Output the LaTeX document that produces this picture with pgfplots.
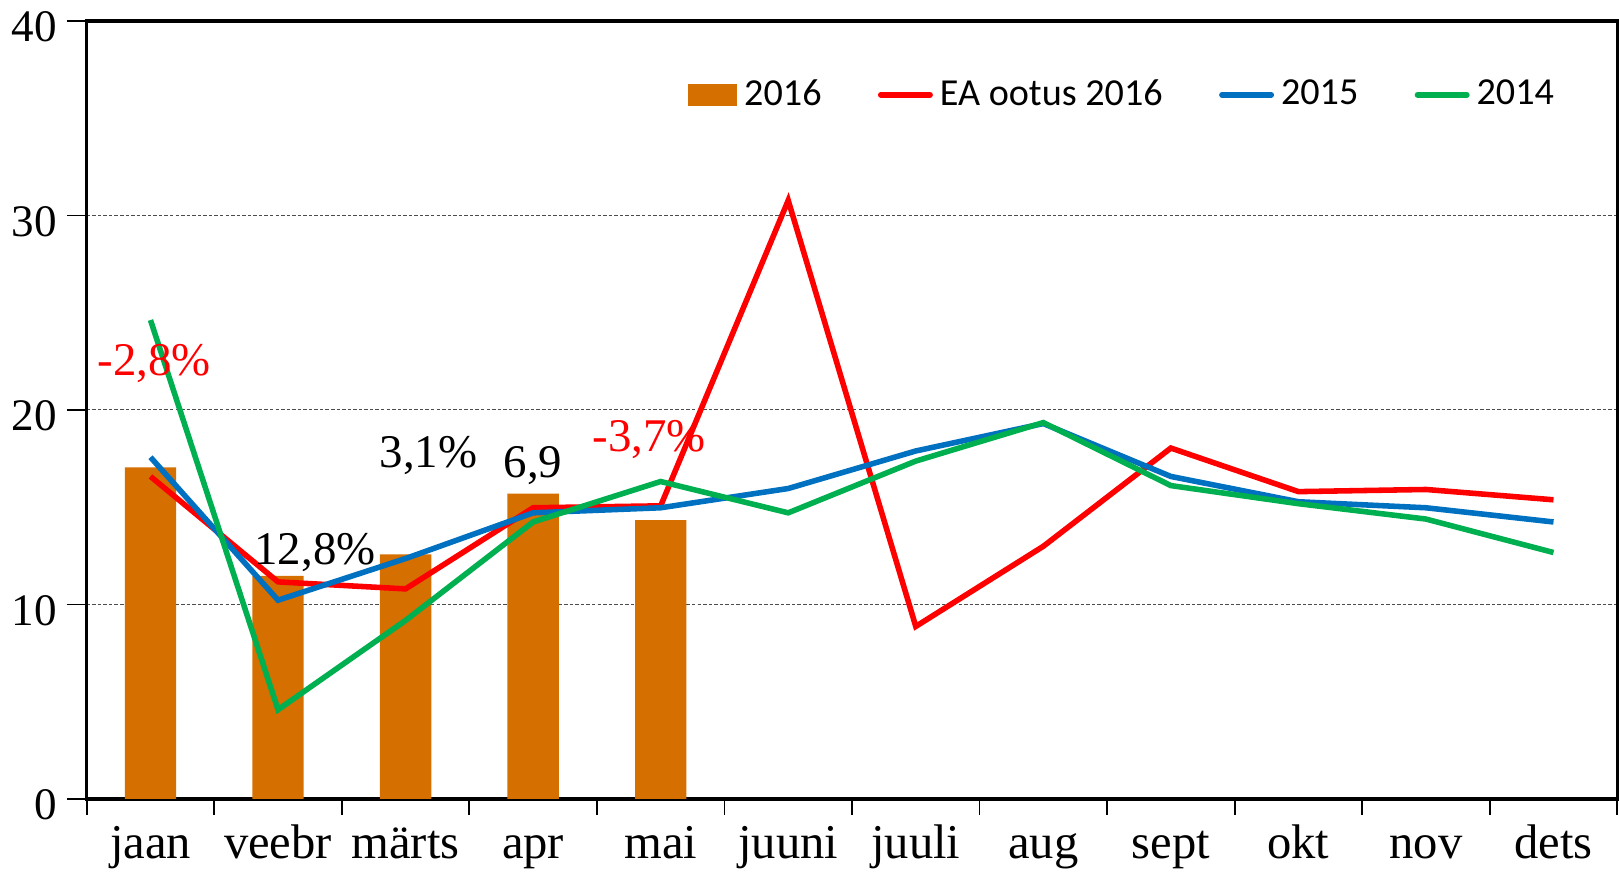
\documentclass[border=0pt]{standalone}
\usepackage{fontspec}
\setmainfont{Liberation Serif}
\newfontfamily\legfont{Carlito}
\usepackage{pgfplots}
\pgfplotsset{compat=1.18}
\definecolor{bar16}{HTML}{D46F00}
\definecolor{red16}{HTML}{FF0000}
\definecolor{blue15}{HTML}{0070C0}
\definecolor{green14}{HTML}{00B050}

\begin{document}
\begin{tikzpicture}
  \begin{axis}[
    scale only axis,
    width=15.5cm, height=7.88cm,
    xmin=-0.5, xmax=11.5, ymin=0, ymax=40,
    xtick={0,...,11},
    xticklabels={jaan,veebr,märts,apr,mai,juuni,juuli,aug,sept,okt,nov,dets},
    minor xtick={-0.5,0.5,...,11.5},
    xtick pos=bottom, ytick pos=left,
    major x tick style={draw=none},
    minor x tick style={black, line width=0.5pt},
    minor tick length=0.16cm,
    ytick={0,10,20,30,40},
    ymajorgrids,
    major grid style={black!70, line width=0.3pt, dash pattern=on 1pt off 0.6pt},
    tick align=outside,
    major tick length=0.2cm,
    ytick style={black, line width=0.5pt},
    axis line style={black, line width=1pt},
    tick label style={font=\fontsize{14}{16}\selectfont},
    xticklabel style={text height=1.6ex, text depth=0.5ex, yshift=-0.02cm},
    yticklabel style={font=\fontsize{13}{15}\selectfont, xshift=0.02cm, yshift=-0.06cm},
    /pgf/number format/assume math mode=true,
    legend style={at={(0.678,0.905)}, anchor=center, draw=none, fill=none,
                  font=\legfont\fontsize{11}{14}\selectfont, legend columns=4,
                  /tikz/every even column/.append style={column sep=0.5cm},
                  legend cell align=left},
  ]
    \addplot[ybar, bar width=0.52cm, fill=bar16, draw=none, bar shift=0pt,
      legend image code/.code={\fill[bar16] (0cm,-0.11cm) rectangle (0.5cm,0.11cm);}]
      coordinates {(0,17.05) (1,11.47) (2,12.57) (3,15.70) (4,14.34)};
    \addlegendentry{2016}
    \addplot[red16, line width=1.6pt,
      legend image code/.code={\draw[red16, line width=1.6pt, line cap=round] (0cm,0cm) -- (0.5cm,0cm);}]
      coordinates {(0,16.58) (1,11.16) (2,10.80) (3,14.97) (4,15.07) (5,30.77)
                   (6,8.87) (7,12.99) (8,18.04) (9,15.80) (10,15.91) (11,15.38)};
    \addlegendentry{EA ootus 2016}
    \addplot[blue15, line width=1.6pt,
      legend image code/.code={\draw[blue15, line width=1.6pt, line cap=round] (0cm,0cm) -- (0.5cm,0cm);}]
      coordinates {(0,17.57) (1,10.22) (2,12.36) (3,14.71) (4,14.97) (5,15.96)
                   (6,17.89) (7,19.30) (8,16.58) (9,15.28) (10,14.97) (11,14.24)};
    \addlegendentry{2015}
    \addplot[green14, line width=1.6pt,
      legend image code/.code={\draw[green14, line width=1.6pt, line cap=round] (0cm,0cm) -- (0.5cm,0cm);}]
      coordinates {(0,24.62) (1,4.59) (2,9.18) (3,14.24) (4,16.32) (5,14.71)
                   (6,17.37) (7,19.35) (8,16.11) (9,15.18) (10,14.39) (11,12.67)};
    \addlegendentry{2014}

    \node[red16, font=\fontsize{13.5}{16}\selectfont] at (axis cs:0.03,22.37) {-2,8\%};
    \node[font=\fontsize{13.5}{16}\selectfont] at (axis cs:1.29,12.67) {12,8\%};
    \node[font=\fontsize{13.5}{16}\selectfont] at (axis cs:2.18,17.68) {3,1\%};
    \node[font=\fontsize{13.5}{16}\selectfont] at (axis cs:3.0,17.16) {6,9};
    \node[red16, font=\fontsize{13.5}{16}\selectfont] at (axis cs:3.91,18.46) {-3,7\%};
  \end{axis}
\end{tikzpicture}
\end{document}
